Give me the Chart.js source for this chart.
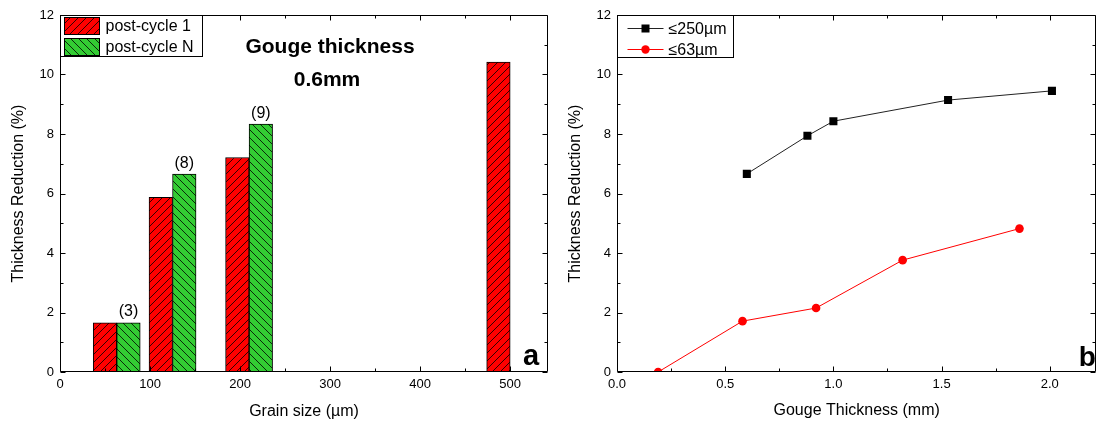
<!DOCTYPE html>
<html>
<head>
<meta charset="utf-8">
<script src="https://cdn.jsdelivr.net/npm/chart.js@4.4.1/dist/chart.umd.min.js"></script>
<style>
body{margin:0;background:#fff;width:1098px;height:423px;overflow:hidden;position:relative}
#left{position:absolute;left:0;top:0}
#right{position:absolute;left:557px;top:0}
</style>
</head>
<body>
<canvas id="left" width="555" height="423"></canvas>
<canvas id="right" width="545" height="423"></canvas>
<script>
// ---- panel a : bars
var grainSizes = [63, 125, 210, 500];
var cycle1 = [1.65, 5.87, 7.21, 10.42];
var cycleN = [1.65, 6.65, 8.33, null];
var cycleCount = ['(3)', '(8)', '(9)', ''];
var grainTicks = [0, 100, 200, 300, 400, 500];
var reductionTicks = [0, 2, 4, 6, 8, 10, 12];

// ---- panel b : lines
var thick250 = [0.6, 0.88, 1.0, 1.53, 2.01];
var red250 = [6.66, 7.94, 8.43, 9.14, 9.45];
var thick63 = [0.19, 0.58, 0.92, 1.32, 1.86];
var red63 = [0, 1.71, 2.15, 3.76, 4.82];
var gougeTicks = [0, 0.5, 1.0, 1.5, 2.0];

var FONT = '"Liberation Sans", Arial, sans-serif';
Chart.defaults.font.family = FONT;
Chart.defaults.color = '#000';

function makeHatch(ctx, color, forward) {
    var c = document.createElement('canvas');
    c.width = 8; c.height = 8;
    var g = c.getContext('2d');
    g.fillStyle = color;
    g.fillRect(0, 0, 8, 8);
    g.strokeStyle = '#000';
    g.lineWidth = 0.8;
    g.beginPath();
    if (forward) {
        g.moveTo(-1, 9); g.lineTo(9, -1);
        g.moveTo(-1, 1); g.lineTo(1, -1);
        g.moveTo(7, 9); g.lineTo(9, 7);
    } else {
        g.moveTo(-1, -1); g.lineTo(9, 9);
        g.moveTo(7, -1); g.lineTo(9, 1);
        g.moveTo(-1, 7); g.lineTo(1, 9);
    }
    g.stroke();
    return ctx.createPattern(c, 'repeat');
}

// frame round the plot + inward major/minor ticks on all four sides
var frameTicks = {
    id: 'frameTicks',
    afterDatasetsDraw: function (chart) {
        var ctx = chart.ctx, a = chart.chartArea;
        var xs = chart.scales.x, ys = chart.scales.y;
        var L = Math.round(a.left) + 0.5, R = Math.round(a.right) - 0.5;
        var T = Math.round(a.top) + 0.5, B = Math.round(a.bottom) - 0.5;
        ctx.save();
        ctx.strokeStyle = '#000';
        ctx.lineWidth = 1;
        ctx.beginPath();
        ctx.rect(L, T, R - L, B - T);
        function marks(scale, horiz) {
            var vals = scale.ticks.map(function (t) { return t.value; });
            var step = vals[1] - vals[0];
            var list = [];
            vals.forEach(function (v) { list.push([v, 5]); });
            vals.forEach(function (v) {
                if (v + step / 2 <= scale.max) list.push([v + step / 2, 3]);
            });
            list.forEach(function (m) {
                var p = Math.round(scale.getPixelForValue(m[0])) + 0.5;
                if (horiz) {
                    ctx.moveTo(p, B); ctx.lineTo(p, B - m[1]);
                    ctx.moveTo(p, T); ctx.lineTo(p, T + m[1]);
                } else {
                    ctx.moveTo(L, p); ctx.lineTo(L + m[1], p);
                    ctx.moveTo(R, p); ctx.lineTo(R - m[1], p);
                }
            });
        }
        marks(xs, true);
        marks(ys, false);
        ctx.stroke();
        ctx.restore();
    }
};

function yAxis(ticks) {
    return {
        min: 0, max: 12,
        grid: { display: false, drawTicks: false },
        border: { display: false },
        afterBuildTicks: function (s) { s.ticks = ticks.map(function (v) { return { value: v }; }); },
        ticks: { padding: 6, font: { size: 13 }, color: '#000' },
        title: { display: true, text: 'Thickness Reduction (%)', font: { size: 16 }, color: '#000', padding: { top: 9, bottom: 0 } },
        afterFit: function (s) { s.width = 60; }
    };
}

// ---------------- LEFT CHART ----------------
var leftCanvas = document.getElementById('left');
var lctx = leftCanvas.getContext('2d');
var redHatch = makeHatch(lctx, '#ff0000', true);
var greenHatch = makeHatch(lctx, '#33cc33', false);

var leftDeco = {
    id: 'leftDeco',
    afterDraw: function (chart) {
        var ctx = chart.ctx, a = chart.chartArea;
        ctx.save();
        // counts above the green bars
        var meta = chart.getDatasetMeta(1);
        ctx.font = '16px ' + FONT;
        ctx.fillStyle = '#000';
        ctx.textAlign = 'center';
        ctx.textBaseline = 'middle';
        meta.data.forEach(function (bar, i) {
            if (cycleCount[i]) ctx.fillText(cycleCount[i], bar.x, bar.y - 11);
        });
        // title
        ctx.font = 'bold 21px ' + FONT;
        ctx.fillText('Gouge thickness', a.left + 270, a.top + 32);
        ctx.fillText('0.6mm', a.left + 267, a.top + 65);
        ctx.font = 'bold 29px ' + FONT;
        ctx.textBaseline = 'alphabetic';
        ctx.fillText('a', a.right - 17, a.bottom - 7);
        // legend
        var x0 = Math.round(a.left) + 0.5, y0 = Math.round(a.top) + 0.5;
        ctx.fillStyle = '#fff';
        ctx.fillRect(x0, y0, 142, 41);
        ctx.strokeStyle = '#000';
        ctx.lineWidth = 1;
        ctx.strokeRect(x0, y0, 142, 41);
        ctx.textAlign = 'left';
        ctx.textBaseline = 'middle';
        ctx.font = '16px ' + FONT;
        chart.data.datasets.forEach(function (ds, i) {
            var yy = y0 + 2 + i * 21;
            ctx.fillStyle = ds.backgroundColor;
            ctx.fillRect(x0 + 4, yy, 35, 17);
            ctx.strokeRect(x0 + 4, yy, 35, 17);
            ctx.fillStyle = '#000';
            ctx.fillText(ds.label, x0 + 45, yy + 9);
        });
        ctx.restore();
    }
};

new Chart(leftCanvas, {
    type: 'bar',
    data: {
        datasets: [
            {
                label: 'post-cycle 1',
                data: grainSizes.map(function (g, i) { return { x: g, y: cycle1[i] }; }),
                backgroundColor: redHatch,
                borderColor: '#000',
                borderWidth: 1,
                borderSkipped: false,
                barThickness: 23.5
            },
            {
                label: 'post-cycle N',
                data: grainSizes.map(function (g, i) { return { x: g, y: cycleN[i] }; }),
                backgroundColor: greenHatch,
                borderColor: '#000',
                borderWidth: 1,
                borderSkipped: false,
                barThickness: 23.5
            }
        ]
    },
    options: {
        responsive: false,
        animation: false,
        layout: { padding: { top: 15, right: 7, left: 0, bottom: 0 } },
        plugins: { legend: { display: false }, tooltip: { enabled: false } },
        scales: {
            x: {
                type: 'linear', min: 0, max: 542, offset: false,
                grid: { display: false, drawTicks: false, offset: false },
                border: { display: false },
                afterBuildTicks: function (s) { s.ticks = grainTicks.map(function (v) { return { value: v }; }); },
                ticks: { padding: 5, font: { size: 13 }, color: '#000', maxRotation: 0, autoSkip: false },
                title: { display: true, text: 'Grain size (µm)', font: { size: 16 }, color: '#000', padding: { top: 0, bottom: 2 } },
                afterFit: function (s) { s.height = 51; }
            },
            y: yAxis(reductionTicks)
        }
    },
    plugins: [frameTicks, leftDeco]
});

// ---------------- RIGHT CHART ----------------
var rightDeco = {
    id: 'rightDeco',
    afterDraw: function (chart) {
        var ctx = chart.ctx, a = chart.chartArea;
        ctx.save();
        ctx.fillStyle = '#000';
        ctx.font = 'bold 28px ' + FONT;
        ctx.textAlign = 'center';
        ctx.fillText('b', a.right - 9, a.bottom - 6);
        var x0 = Math.round(a.left) + 0.5, y0 = Math.round(a.top) + 0.5;
        ctx.fillStyle = '#fff';
        ctx.fillRect(x0, y0, 116, 42);
        ctx.strokeStyle = '#000';
        ctx.lineWidth = 1;
        ctx.strokeRect(x0, y0, 116, 42);
        ctx.font = '16px ' + FONT;
        ctx.textAlign = 'left';
        ctx.textBaseline = 'middle';
        chart.data.datasets.forEach(function (ds, i) {
            var yy = y0 + 13 + i * 21;
            ctx.strokeStyle = ds.borderColor;
            ctx.beginPath();
            ctx.moveTo(x0 + 10, yy); ctx.lineTo(x0 + 46, yy);
            ctx.stroke();
            ctx.fillStyle = ds.pointBackgroundColor;
            if (ds.pointStyle === 'rect') {
                ctx.fillRect(x0 + 24, yy - 4, 8, 8);
            } else {
                ctx.beginPath();
                ctx.arc(x0 + 28, yy, 4.2, 0, Math.PI * 2);
                ctx.fill();
            }
            ctx.fillStyle = '#000';
            ctx.fillText(ds.label, x0 + 51, yy + 1);
        });
        ctx.restore();
    }
};

new Chart(document.getElementById('right'), {
    type: 'line',
    data: {
        datasets: [
            {
                label: '≤250µm',
                data: thick250.map(function (t, i) { return { x: t, y: red250[i] }; }),
                borderColor: '#222',
                borderWidth: 1,
                pointStyle: 'rect',
                pointRadius: 5.7,
                pointBackgroundColor: '#000',
                pointBorderWidth: 0,
                tension: 0
            },
            {
                label: '≤63µm',
                data: thick63.map(function (t, i) { return { x: t, y: red63[i] }; }),
                borderColor: '#ff0000',
                borderWidth: 1,
                pointStyle: 'circle',
                pointRadius: 4.3,
                pointBackgroundColor: '#ff0000',
                pointBorderWidth: 0,
                tension: 0
            }
        ]
    },
    options: {
        responsive: false,
        animation: false,
        layout: { padding: { top: 15, right: 5, left: 0, bottom: 0 } },
        plugins: { legend: { display: false }, tooltip: { enabled: false } },
        scales: {
            x: {
                type: 'linear', min: 0, max: 2.215,
                grid: { display: false, drawTicks: false },
                border: { display: false },
                afterBuildTicks: function (s) { s.ticks = gougeTicks.map(function (v) { return { value: v }; }); },
                ticks: { padding: 5, font: { size: 13 }, color: '#000', maxRotation: 0, autoSkip: false,
                    callback: function (v) { return Number(v).toFixed(1); } },
                title: { display: true, text: 'Gouge Thickness (mm)', font: { size: 16 }, color: '#000', padding: { top: 0, bottom: 3 } },
                afterFit: function (s) { s.height = 51; }
            },
            y: yAxis(reductionTicks)
        }
    },
    plugins: [frameTicks, rightDeco]
});
</script>
</body>
</html>
